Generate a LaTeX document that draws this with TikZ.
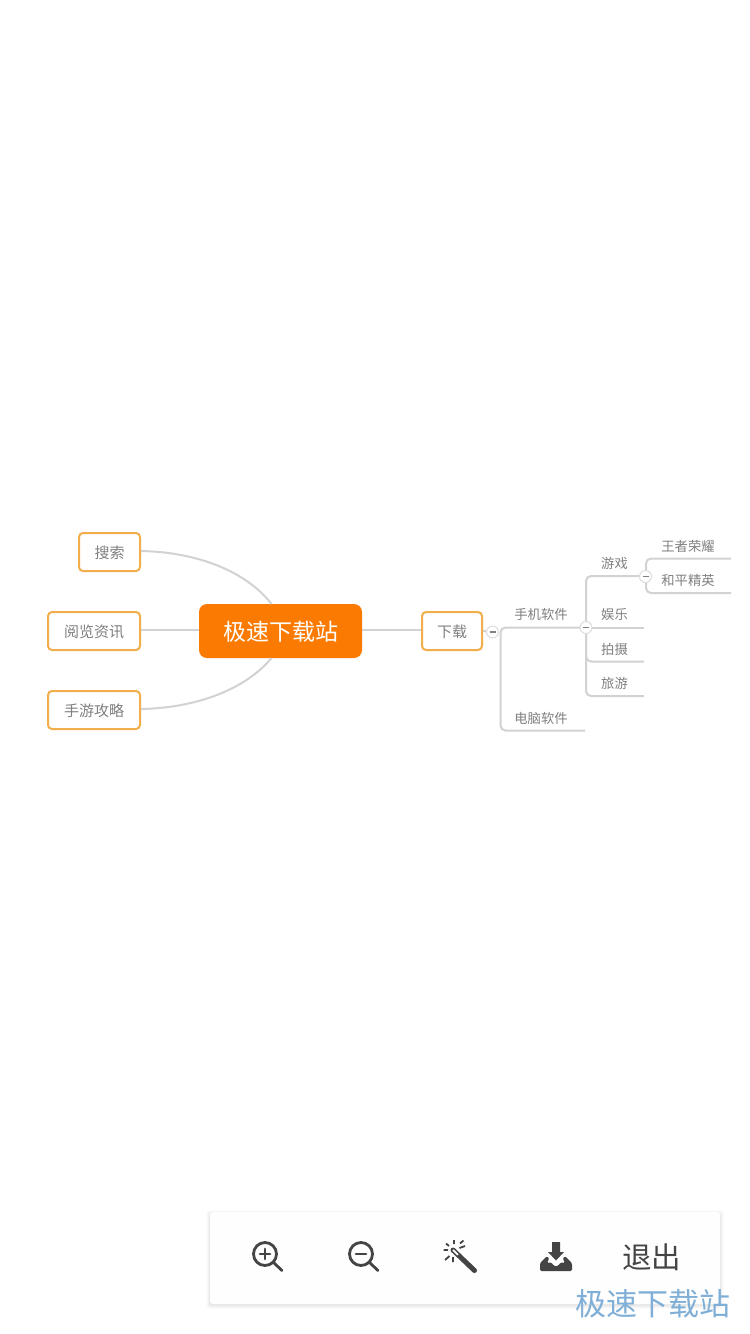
\documentclass[tikz,border=0pt]{standalone}
\usepackage{fontspec}
\setmainfont{Noto Sans CJK SC}
\newfontfamily\cjk{Noto Sans CJK SC}
\usetikzlibrary{calc}
\definecolor{linegray}{HTML}{D2D2D2}
\definecolor{boxorange}{HTML}{F2AE4B}
\definecolor{rootorange}{HTML}{FB7B02}
\definecolor{txtgray}{HTML}{808080}
\definecolor{icondark}{HTML}{444444}
\definecolor{wmblue}{HTML}{7FAFD6}
\definecolor{panelwhite}{HTML}{FEFEFE}
\tikzset{
  x=1pt,y=-1pt,
  topic/.style={draw=boxorange,line width=2pt,rounded corners=4pt,fill=white,inner sep=0pt,minimum height=38pt,text=txtgray,font=\cjk\fontsize{15}{15}\selectfont},
  root/.style={fill=rootorange,rounded corners=8pt,inner sep=0pt,minimum width=163pt,minimum height=54pt,text=white,font=\cjk\fontsize{23}{23}\selectfont},
  leaflabel/.style={text=txtgray,inner sep=0pt,font=\cjk\fontsize{13.3}{13.3}\selectfont},
  conn/.style={draw=linegray,line width=2pt},
  branch/.style={conn,rounded corners=5pt},
  toggle/.style={circle,draw=linegray!75,line width=1pt,fill=white,minimum size=12pt,inner sep=0pt},
  icon/.style={draw=icondark,line width=2.8pt,line cap=round},
  ray/.style={draw=icondark,line width=1.8pt},
}
\newcommand{\minusmark}[1]{\draw[draw=txtgray,line width=1.2pt] ($(#1)+(-3,0)$) -- ($(#1)+(3,0)$);}
\newcommand{\lowered}[1]{\raisebox{-1pt}[\height][\depth]{#1}}
\begin{document}
\begin{tikzpicture}
\useasboundingbox (0,0) rectangle (750,1334);
\fill[white] (0,0) rectangle (750,1334);

% nodes
\node[root] (rootn) at (280.5,631) {\lowered{极速下载站}};
\node[topic,minimum width=61pt] (search) at (109.5,552) {\lowered{搜索}};
\node[topic,minimum width=92pt] (read) at (94,631) {\lowered{阅览资讯}};
\node[topic,minimum width=92pt] (guide) at (94,710) {\lowered{手游攻略}};
\node[topic,minimum width=60pt] (down) at (452,631) {\lowered{下载}};

\coordinate (rootTopL) at (271.5,604);
\coordinate (rootBotL) at (271.5,658);

% root connectors
\draw[conn] (search.east |- 0,551) .. controls (195,552) and (245,570) .. (rootTopL);
\draw[conn] (guide.east |- 0,709) .. controls (195,708) and (245,690) .. (rootBotL);
\draw[conn] (read.east |- 0,630) -- (rootn.west |- 0,630);
\draw[conn] (rootn.east |- 0,630) -- (down.west |- 0,630);

% toggles positions
\coordinate (t1) at (492.5,632);
\coordinate (t2) at (586,627.5);
\coordinate (t3) at (645.5,576.5);

% branch ends
\coordinate (phoneEnd) at (585,627.5);
\coordinate (pcEnd) at (585,730.5);
\coordinate (gameEnd) at (645,576);
\coordinate (funEnd) at (644,627.5);
\coordinate (photoEnd) at (644,661.5);
\coordinate (travelEnd) at (644,696);
\coordinate (kingEnd) at (731,558.5);
\coordinate (peaceEnd) at (731,593);
\coordinate (jA) at (500.5,627.5);
\coordinate (jB) at (500.5,730.5);

\draw[conn] (down.east) -- (t1);
\draw[branch] (phoneEnd) -- (jA) -- (jB) -- (pcEnd);

\draw[conn] (t2) -- (funEnd);
\draw[branch] (gameEnd) -- (586,576) -- (586,696) -- (travelEnd);
\draw[branch] (t2) -- (586,661.5) -- (photoEnd);

\draw[branch] (kingEnd) -- (646,558.5) -- (646,593) -- (peaceEnd);

\node[toggle] (tg1) at (t1) {};
\node[toggle] (tg2) at (t2) {};
\node[toggle] (tg3) at (t3) {};
\minusmark{t1}\minusmark{t2}\minusmark{t3}

% labels
\node[leaflabel] (phone) at (541,614) {手机软件};
\node[leaflabel] (pc) at (541,718) {电脑软件};
\node[leaflabel] (game) at (614.5,563) {游戏};
\node[leaflabel] (fun) at (614.5,614) {娱乐};
\node[leaflabel] (photo) at (614.5,649) {拍摄};
\node[leaflabel] (travel) at (614.5,683) {旅游};
\node[leaflabel] (king) at (688,546) {王者荣耀};
\node[leaflabel] (peace) at (688,580) {和平精英};

% toolbar panel with soft shadow
\foreach \d/\o in {4/0.012,3/0.018,2/0.025,1/0.035}{
  \fill[black,opacity=\o,rounded corners=3pt] (210-\d,1212-\d+2) rectangle (720+\d,1304+\d+1);
}
\fill[panelwhite,rounded corners=3pt] (210,1212) rectangle (720,1304);

% zoom in
\draw[icon] (265,1254) circle (11.5);
\draw[icon] (273.5,1262.5) -- (282,1270.5);
\draw[icon] (260,1254) -- (270,1254) (265,1249) -- (265,1259);
% zoom out
\draw[icon] (361,1254) circle (11.5);
\draw[icon] (369.5,1262.5) -- (378,1270.5);
\draw[icon] (356,1254) -- (366,1254);
% wand
\draw[icon,line width=5pt,line cap=round] (453,1250) -- (474.5,1270.5);
\draw[draw=white,line width=1.8pt] (453,1250) -- (458,1254.8);
\draw[ray] (443.5,1250) -- (448,1250) (446,1243.5) -- (449,1246) (454,1240) -- (454,1244)
  (460,1243.5) -- (463.5,1240.5) (459.5,1248) -- (465,1246) (445,1260) -- (449.5,1256) (453,1257) -- (453,1262);
% download
\fill[icondark] (552,1242) -- (560,1242) -- (560,1252) -- (564,1252) -- (556,1260.5) -- (548,1252) -- (552,1252) -- cycle;
\fill[icondark,rounded corners=1.5pt] (540,1271) -- (540,1263) -- (547,1256) -- (549.5,1259) -- (546.5,1262.5) -- (552,1262.5) -- (553.5,1266) -- (558.5,1266) -- (560,1262.5) -- (565.5,1262.5) -- (562.5,1259) -- (565,1256) -- (572,1263) -- (572,1271) -- cycle;
% exit
\node[inner sep=0pt,text=icondark,font=\cjk\fontsize{29.5}{29.5}\selectfont] (exit) at (651.5,1257) {退出};
% watermark
\node[inner sep=0pt,text=wmblue,font=\cjk\fontsize{31}{31}\selectfont] (wm) at (653,1303.5) {极速下载站};
\end{tikzpicture}
\end{document}
